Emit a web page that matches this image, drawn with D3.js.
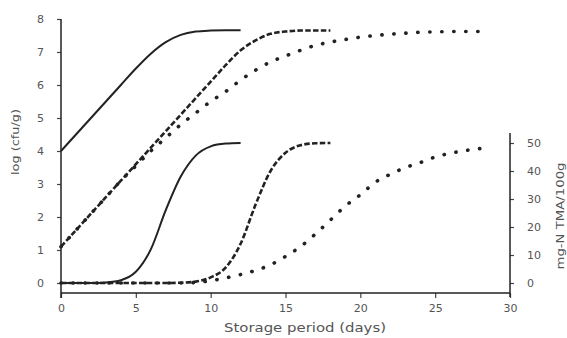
<!DOCTYPE html>
<html>
<head>
<meta charset="utf-8">
<script src="https://cdn.jsdelivr.net/npm/d3@7"></script>
<style>
  body { margin: 0; background: #fff; }
  text { font-family: "DejaVu Sans", sans-serif; fill: #555; }
</style>
</head>
<body>
<svg id="chart" width="567" height="338"></svg>
<script>
// log (cfu/g), left axis
var daysA = d3.range(0, 13);
var daysB = d3.range(0, 19);
var daysC = d3.range(0, 29);

var cfuSolid = [4.0, 4.5, 5.0, 5.5, 6.0, 6.5, 6.95, 7.3, 7.52, 7.62, 7.65, 7.66, 7.66];
var cfuDashed = [1.1, 1.6, 2.1, 2.6, 3.1, 3.6, 4.1, 4.6, 5.1, 5.6, 6.1, 6.6, 7.05, 7.35, 7.55,
  7.62, 7.65, 7.65, 7.65];
var cfuDotted = [1.1, 1.6, 2.1, 2.6, 3.1, 3.55, 4.0, 4.4, 4.8, 5.15, 5.5, 5.8, 6.15, 6.45, 6.7,
  6.88, 7.05, 7.2, 7.3, 7.38, 7.45, 7.5, 7.54, 7.57, 7.6, 7.61, 7.62, 7.62, 7.62];

// mg-N TMA/100g, right axis
var tmaSolid = [0, 0, 0, 0.2, 1, 4, 12, 26, 38, 45.5, 48.8, 49.8, 50];
var tmaDashed = [0, 0, 0, 0, 0, 0, 0, 0, 0.1, 0.5, 2, 5.5, 14, 28, 40, 46.5, 49.2, 49.9, 50];
var tmaDotted = [0, 0, 0, 0, 0, 0, 0, 0, 0, 0.2, 0.8, 1.8, 3, 4.5, 6.5, 9.5, 13, 17.5, 22.5,
  27.5, 31.5, 36, 38.8, 41.2, 43, 45, 46.3, 47.3, 48];

var xTicks = [0, 5, 10, 15, 20, 25, 30];
var leftTicks = [0, 1, 2, 3, 4, 5, 6, 7, 8];
var rightTicks = [0, 10, 20, 30, 40, 50];

var svg = d3.select("#chart");
var axisY = 293;

var x = d3.scaleLinear().domain([0, 30]).range([61, 510]);
var yL = d3.scaleLinear().domain([0, 8]).range([283, 19]);
var yR = d3.scaleLinear().domain([0, 50]).range([283, 143]);

// axes
var gx = svg.append("g")
  .attr("transform", "translate(0," + axisY + ")")
  .call(d3.axisBottom(x).tickValues(xTicks).tickSize(5).tickPadding(6).tickSizeOuter(0));
gx.select(".domain").remove();
svg.append("line").attr("x1", x(0)).attr("x2", x(30)).attr("y1", axisY).attr("y2", axisY)
  .attr("stroke", "#222").attr("stroke-width", 1.5);

var gl = svg.append("g")
  .attr("transform", "translate(" + x(0) + ",0)")
  .call(d3.axisLeft(yL).tickValues(leftTicks).tickSize(4).tickPadding(13).tickSizeOuter(0));
gl.select(".domain").remove();
svg.append("line").attr("x1", x(0)).attr("x2", x(0)).attr("y1", yL(8)).attr("y2", axisY + 5)
  .attr("stroke", "#222").attr("stroke-width", 1.5);

var gr = svg.append("g")
  .attr("transform", "translate(" + x(30) + ",0)")
  .call(d3.axisRight(yR).tickValues(rightTicks).tickSize(4).tickPadding(13).tickSizeOuter(0));
gr.select(".domain").remove();
svg.append("line").attr("x1", x(30)).attr("x2", x(30)).attr("y1", 133).attr("y2", axisY + 4)
  .attr("stroke", "#222").attr("stroke-width", 1.5);

svg.selectAll(".tick line").attr("stroke", "#444").attr("stroke-width", 1.2);
svg.selectAll(".tick text").style("font-size", "11px").attr("fill", "#555");

// axis titles
svg.append("text")
  .attr("x", 305).attr("y", 332)
  .attr("text-anchor", "middle")
  .attr("textLength", 162).attr("lengthAdjust", "spacingAndGlyphs")
  .style("font-size", "12px")
  .text("Storage period (days)");

svg.append("text")
  .attr("transform", "translate(19,142) rotate(-90)")
  .attr("text-anchor", "middle")
  .attr("textLength", 66).attr("lengthAdjust", "spacingAndGlyphs")
  .style("font-size", "11px")
  .text("log (cfu/g)");

svg.append("text")
  .attr("transform", "translate(564,216) rotate(-90)")
  .attr("text-anchor", "middle")
  .attr("textLength", 107).attr("lengthAdjust", "spacingAndGlyphs")
  .style("font-size", "10.5px")
  .text("mg-N TMA/100g");

// curves
function drawCurve(days, vals, yScale, style) {
  var line = d3.line()
    .x(function (d, i) { return x(days[i]); })
    .y(function (d) { return yScale(d); })
    .curve(d3.curveMonotoneX);
  var p = svg.append("path")
    .datum(vals)
    .attr("d", line)
    .attr("fill", "none")
    .attr("stroke", "#222");
  if (style === "solid") {
    p.attr("stroke-width", 2);
  } else if (style === "dashed") {
    p.attr("stroke-width", 2.6).attr("stroke-dasharray", "5.5,2.3");
  } else {
    p.attr("stroke-width", 3.6).attr("stroke-linecap", "round").attr("stroke-dasharray", "0.3,11.7");
  }
}

drawCurve(daysC, tmaDotted, yR, "dotted");
drawCurve(daysB, tmaDashed, yR, "dashed");
drawCurve(daysA, tmaSolid, yR, "solid");
drawCurve(daysC, cfuDotted, yL, "dotted");
drawCurve(daysB, cfuDashed, yL, "dashed");
drawCurve(daysA, cfuSolid, yL, "solid");
</script>
</body>
</html>
